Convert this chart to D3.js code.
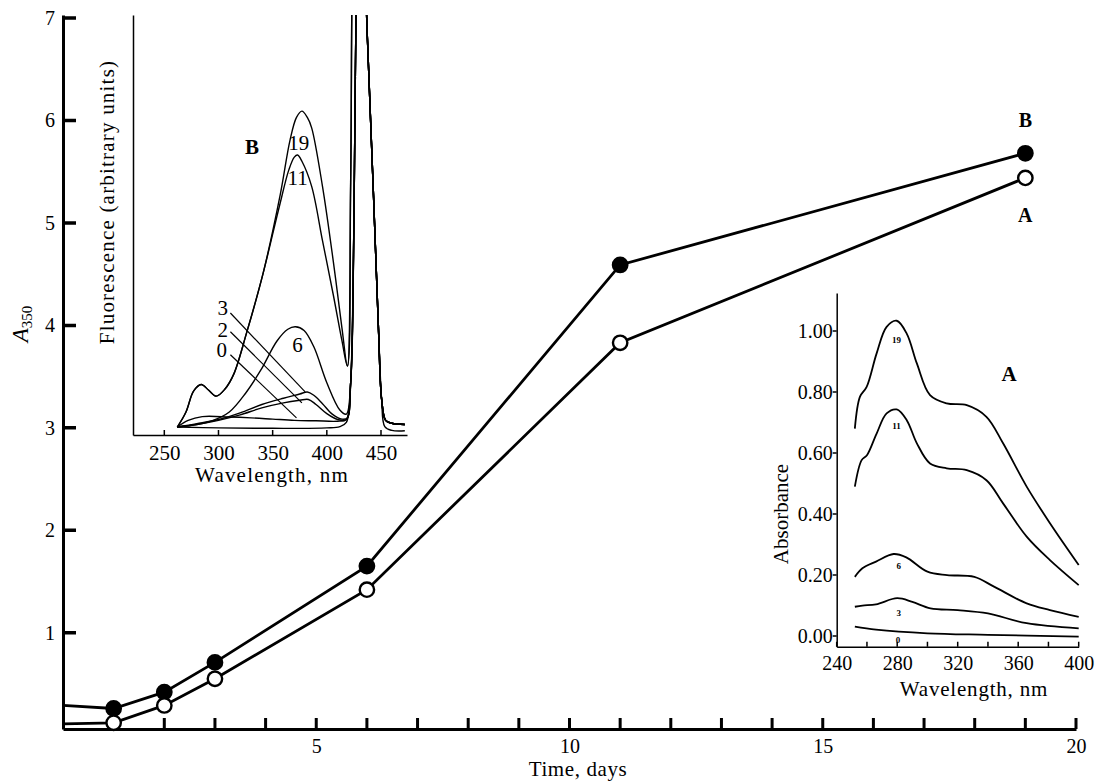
<!DOCTYPE html>
<html>
<head>
<meta charset="utf-8">
<script src="https://cdnjs.cloudflare.com/ajax/libs/d3/7.8.5/d3.min.js"></script>
<style>
  body { margin: 0; background: #fff; }
  svg { display: block; font-family: "Liberation Serif", "DejaVu Serif", serif; }
  .spectrum { fill: none; stroke: #000; }
</style>
</head>
<body>
<svg id="chart" width="1095" height="783"></svg>
<script>
// ---- main plot: A350 vs time ----
const days = [0, 1, 2, 3, 6, 11, 19];
const seriesB = [0.29, 0.26, 0.42, 0.71, 1.65, 4.59, 5.68];   // filled circles
const seriesA = [0.11, 0.12, 0.29, 0.55, 1.42, 3.83, 5.44];   // open circles
const dayTicks = d3.range(1, 21);
const a350Ticks = [1, 2, 3, 4, 5, 6, 7];

// ---- upper inset: fluorescence spectra (B), wavelength nm / arbitrary units ----
const flTicks = [250, 300, 350, 400, 450];
// Rayleigh scatter peak, shared by all traces
const scatterTail = [[431, 150], [436.7, 100], [443.2, 56], [447.8, 24], [450.6, 8], [454.3, 3], [460, 2.3], [472, 2]];
const fl19 = [[262, 1.4], [270, 5], [277, 10], [284, 11.6], [291, 10.2], [298, 8.8], [306, 10.5], [314, 14],
  [326, 24], [341, 38], [357, 57], [366, 70], [372, 75.5], [377, 77], [382, 75.5], [386, 73], [396, 59],
  [406, 41], [414, 25], [419, 16], [422, 60], [425, 130]];
const fl11 = [[262, 1.4], [270, 5], [277, 10], [284, 11.6], [291, 10.2], [298, 8.8], [306, 10.5], [314, 14],
  [326, 24], [341, 38], [356, 54], [365, 63], [370, 66], [373, 66.5], [377, 65], [386, 59], [396, 46],
  [406, 33], [414, 22], [419, 16], [422, 60], [425, 130]];
const fl6 = [[262, 1.4], [280, 2], [295, 3], [310, 5], [325, 9.5], [339, 15], [354, 22], [364, 24.8],
  [371, 25.4], [379, 24.5], [388, 20.6], [400, 12], [412, 5.5], [418, 4.5], [422, 12], [425, 50], [428, 125]];
const fl3 = [[262, 1.4], [280, 2.2], [300, 3.2], [320, 4.8], [340, 6.8], [360, 8.3], [375, 9.3], [382, 9.8],
  [388, 9], [396, 7], [405, 4.5], [414, 3.3], [419, 3.6], [422, 12], [425, 50], [428, 125]];
const fl2 = [[262, 1.4], [280, 2], [300, 3], [320, 4.3], [340, 6], [360, 7.2], [375, 7.8], [383, 8],
  [390, 6.8], [400, 4.6], [410, 3.2], [418, 3.2], [422, 12], [425, 50], [428, 125]];
const fl0 = [[262, 1.4], [272, 3], [285, 3.9], [310, 3.8], [330, 3.6], [350, 3.3], [370, 3], [390, 2.9],
  [410, 2.8], [418, 3.2], [422, 12], [425, 50], [428, 125]];
const flBlank = [[262, 1.4], [300, 1.2], [350, 1.1], [400, 1.2], [412, 1.5], [418, 2.5], [422, 12], [425, 50],
  [428, 125], [431, 150], [436.7, 100], [443.2, 56], [447.8, 24], [450.6, 8], [453.5, 1.5], [460, 0.6], [472, 0.5]];
// label text, label position (nm, units), optional leader end
const flLabels = [
  { text: "B", at: [331, 68.5], bold: true },
  { text: "19", at: [374, 69.5] },
  { text: "11", at: [373, 61] },
  { text: "6", at: [373, 21] },
  { text: "3", at: [304, 30], leader: [[311, 28.7], [380, 9.8]] },
  { text: "2", at: [304, 24.6], leader: [[311, 24.2], [377, 7.2]] },
  { text: "0", at: [303, 19.9], leader: [[311, 18.7], [372, 3.6]] }
];

// ---- lower inset: absorbance spectra (A) ----
const absTicks = d3.range(240, 401, 20);
const absValTicks = [0, 0.2, 0.4, 0.6, 0.8, 1.0];
const abs19 = [[252, 0.68], [255.4, 0.785], [259.8, 0.817], [266.4, 0.927], [273, 1.014], [279.7, 1.034],
  [286.3, 0.992], [293, 0.894], [301.7, 0.79], [312.7, 0.763], [326, 0.757], [339, 0.719], [350, 0.632],
  [365.6, 0.49], [381, 0.37], [400, 0.233]];
const abs11 = [[252, 0.49], [256.5, 0.577], [260, 0.593], [266.4, 0.664], [273, 0.73], [279.7, 0.743],
  [286.3, 0.708], [293, 0.632], [301.7, 0.566], [312.7, 0.55], [326, 0.544], [339, 0.511], [350, 0.435],
  [365.6, 0.326], [381, 0.249], [400, 0.167]];
const abs6 = [[252, 0.194], [257, 0.222], [266, 0.244], [277.6, 0.269], [286, 0.258], [300, 0.211],
  [313, 0.2], [331, 0.194], [344, 0.162], [365.6, 0.107], [381, 0.085], [400, 0.063]];
const abs3 = [[252, 0.096], [257, 0.1], [266, 0.104], [280, 0.124], [290, 0.112], [302, 0.091],
  [320, 0.085], [340, 0.074], [365.6, 0.042], [400, 0.025]];
const abs0 = [[252, 0.031], [266, 0.021], [300, 0.009], [340, 0.004], [400, -0.002]];
const absLabels = [
  { text: "19", at: [279.5, 0.97] },
  { text: "11", at: [279.5, 0.69] },
  { text: "6", at: [281, 0.23] },
  { text: "3", at: [281, 0.076] },
  { text: "0", at: [280.5, -0.013] }
];

const FONT = "'Liberation Serif', 'DejaVu Serif', serif";
const svg = d3.select("#chart");

// style an axis group the way the print looks: black serif, given widths
const styleAxis = function (g, fontSize, domainWidth) {
  g.attr("font-family", FONT).attr("font-size", fontSize);
  g.select(".domain")
    .attr("stroke", "#000")
    .attr("stroke-width", domainWidth);
  g.selectAll(".tick text")
    .attr("fill", "#000")
    .style("font-family", FONT)
    .style("font-size", fontSize + "px");
};

// tick marks as one stroked path: horizontal-axis ticks go up from base,
// vertical-axis ticks go right (len > 0) or left (len < 0) from base
const drawTicks = function (scale, values, horizontal, base, len, width) {
  const p = d3.path();
  values.forEach(v => {
    const at = scale(v);
    if (horizontal) {
      p.moveTo(at, base);
      p.lineTo(at, base - len);
    } else {
      p.moveTo(base, at);
      p.lineTo(base + len, at);
    }
  });
  svg.append("path")
    .attr("d", p.toString())
    .attr("fill", "none")
    .attr("stroke", "#000")
    .attr("stroke-width", width);
};

// ================= main plot =================
const x = d3.scaleLinear().domain([0, 20]).range([63, 1076]);
const y = d3.scaleLinear().domain([0.06, 7.03]).range([729, 15]);

const gx = svg.append("g")
  .attr("transform", `translate(0,${y.range()[0]})`)
  .call(d3.axisBottom(x)
    .tickValues(dayTicks)
    .tickSizeInner(0)
    .tickSizeOuter(0)
    .tickPadding(10)
    .tickFormat(d => d % 5 === 0 ? d : ""));
styleAxis(gx, 20, 3);
drawTicks(x, dayTicks, true, y.range()[0], 11, 3);

const gy = svg.append("g")
  .attr("transform", `translate(${x(0)},0)`)
  .call(d3.axisLeft(y)
    .tickValues(a350Ticks)
    .tickSizeInner(0)
    .tickSizeOuter(0)
    .tickPadding(8)
    .tickFormat(d3.format("d")));
styleAxis(gy, 20, 3);
drawTicks(y, a350Ticks, false, x(0), 13, 3.5);

svg.append("text")
  .attr("x", 578)
  .attr("y", 776)
  .attr("text-anchor", "middle")
  .style("font-size", "21px")
  .style("letter-spacing", "0.6px")
  .text("Time, days");

const a350 = svg.append("text")
  .attr("transform", "translate(28,324) rotate(-90)")
  .attr("text-anchor", "middle")
  .style("font-size", "23px");
a350.append("tspan").style("font-style", "italic").text("A");
a350.append("tspan").attr("dy", 4).style("font-size", "15px").text("350");

const mainLine = d3.line()
  .x(d => x(d[0]))
  .y(d => y(d[1]));

[seriesB, seriesA].forEach(s => {
  svg.append("path")
    .datum(days.map((d, i) => [d, s[i]]))
    .attr("d", mainLine)
    .style("fill", "none")
    .style("stroke", "#000")
    .style("stroke-width", 2.8);
});

const drawDots = function (s, fill) {
  svg.append("g")
    .selectAll("circle")
    .data(days.map((d, i) => [d, s[i]]).filter(d => d[0] > 0))
    .enter()
    .append("circle")
    .attr("cx", d => x(d[0]))
    .attr("cy", d => y(d[1]))
    .attr("r", 7.2)
    .style("fill", fill)
    .style("stroke", "#000")
    .style("stroke-width", 2.4);
};
drawDots(seriesB, "#000");
drawDots(seriesA, "#fff");

const last = days.length - 1;
svg.append("text")
  .attr("x", x(days[last]))
  .attr("y", y(seriesB[last]) - 26)
  .attr("text-anchor", "middle")
  .style("font-size", "20px")
  .style("font-weight", "bold")
  .text("B");
svg.append("text")
  .attr("x", x(days[last]))
  .attr("y", y(seriesA[last]) + 44)
  .attr("text-anchor", "middle")
  .style("font-size", "20px")
  .style("font-weight", "bold")
  .text("A");

// ================= fluorescence inset =================
const fx = d3.scaleLinear().domain([221.1, 474]).range([133, 407]);
const fy = d3.scaleLinear().domain([-0.5, 100]).range([435, 15]);

svg.append("defs").append("clipPath")
  .attr("id", "fl-clip")
  .append("rect")
  .attr("x", fx.range()[0])
  .attr("y", fy.range()[1])
  .attr("width", fx.range()[1] - fx.range()[0])
  .attr("height", fy.range()[0] - fy.range()[1]);

const fgx = svg.append("g")
  .attr("transform", `translate(0,${fy.range()[0]})`)
  .call(d3.axisBottom(fx)
    .tickValues(flTicks)
    .tickSizeInner(0)
    .tickSizeOuter(0)
    .tickPadding(10));
styleAxis(fgx, 21, 1.5);
drawTicks(fx, flTicks, true, fy.range()[0], 5, 1.5);

const fgy = svg.append("g")
  .attr("transform", `translate(${fx.range()[0]},0)`)
  .call(d3.axisLeft(fy).tickValues([]).tickSizeOuter(0));
styleAxis(fgy, 21, 1.5);

svg.append("text")
  .attr("x", (fx.range()[0] + fx.range()[1]) / 2 + 2)
  .attr("y", 482)
  .attr("text-anchor", "middle")
  .style("font-size", "21px")
  .style("letter-spacing", "1.2px")
  .text("Wavelength, nm");

svg.append("text")
  .attr("transform", "translate(114,202) rotate(-90)")
  .attr("text-anchor", "middle")
  .style("font-size", "21px")
  .style("letter-spacing", "1.2px")
  .text("Fluorescence (arbitrary units)");

const flLine = d3.line()
  .x(d => fx(d[0]))
  .y(d => fy(d[1]))
  .curve(d3.curveCatmullRom.alpha(0.5));

const flSeries = [fl19, fl11, fl6, fl3, fl2, fl0].map(s => s.concat(scatterTail)).concat([flBlank]);
svg.append("g")
  .attr("clip-path", "url(#fl-clip)")
  .selectAll(".spectrum")
  .data(flSeries)
  .enter()
  .append("path")
  .attr("class", "spectrum")
  .attr("d", flLine)
  .style("stroke-width", 1.4);

flLabels.forEach(l => {
  svg.append("text")
    .attr("x", fx(l.at[0]))
    .attr("y", fy(l.at[1]))
    .attr("dy", "0.35em")
    .attr("text-anchor", "middle")
    .style("font-size", "21px")
    .style("font-weight", l.bold ? "bold" : "normal")
    .text(l.text);
  if (l.leader) {
    svg.append("path")
      .datum(l.leader)
      .attr("d", d3.line().x(d => fx(d[0])).y(d => fy(d[1])))
      .style("stroke", "#000")
      .style("stroke-width", 1.2);
  }
});

// ================= absorbance inset =================
const ax = d3.scaleLinear().domain([240, 400]).range([836.7, 1078.7]);
const ay = d3.scaleLinear().domain([-0.035, 1.125]).range([646.7, 293]);

const agx = svg.append("g")
  .attr("transform", `translate(0,${ay.range()[0]})`)
  .call(d3.axisBottom(ax)
    .tickValues(absTicks)
    .tickSizeInner(0)
    .tickSizeOuter(0)
    .tickPadding(9)
    .tickFormat(d => d % 40 === 0 ? d : ""));
styleAxis(agx, 20, 1.5);
drawTicks(ax, absTicks, true, ay.range()[0], 5, 1.5);

const agy = svg.append("g")
  .attr("transform", `translate(${ax.range()[0]},0)`)
  .call(d3.axisLeft(ay)
    .tickValues(absValTicks)
    .tickSizeInner(0)
    .tickSizeOuter(0)
    .tickPadding(4)
    .tickFormat(d3.format(".2f")));
styleAxis(agy, 20, 1.5);
drawTicks(ay, absValTicks, false, ax.range()[0], -4, 1.5);

svg.append("text")
  .attr("x", 974)
  .attr("y", 696)
  .attr("text-anchor", "middle")
  .style("font-size", "21px")
  .style("letter-spacing", "0.8px")
  .text("Wavelength, nm");

svg.append("text")
  .attr("transform", "translate(788,514) rotate(-90)")
  .attr("text-anchor", "middle")
  .style("font-size", "21px")
  .text("Absorbance");

const absLine = d3.line()
  .x(d => ax(d[0]))
  .y(d => ay(d[1]))
  .curve(d3.curveCatmullRom.alpha(0.5));

svg.append("g")
  .selectAll(".spectrum")
  .data([abs19, abs11, abs6, abs3, abs0])
  .enter()
  .append("path")
  .attr("class", "spectrum")
  .attr("d", absLine)
  .style("stroke-width", 1.8);

absLabels.forEach(l => {
  svg.append("text")
    .attr("x", ax(l.at[0]))
    .attr("y", ay(l.at[1]))
    .attr("dy", "0.35em")
    .attr("text-anchor", "middle")
    .style("font-size", "9px")
    .style("font-weight", "bold")
    .text(l.text);
});

svg.append("text")
  .attr("x", ax(354))
  .attr("y", ay(0.86))
  .attr("dy", "0.35em")
  .attr("text-anchor", "middle")
  .style("font-size", "21px")
  .style("font-weight", "bold")
  .text("A");
</script>
</body>
</html>
